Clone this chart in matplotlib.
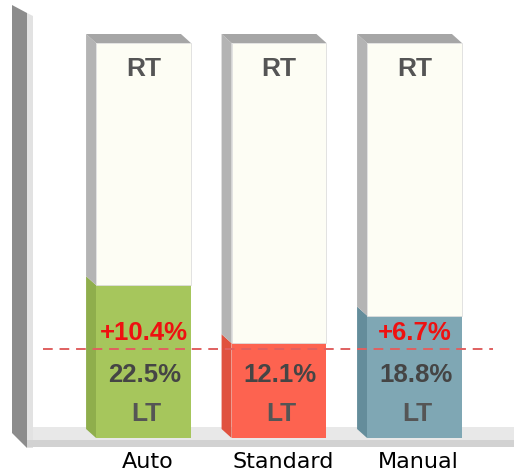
import matplotlib.pyplot as plt
from matplotlib.patches import Polygon, Rectangle

# Werte
categories = ["Auto", "Standard", "Manual"]
lt_share = ["22.5%", "12.1%", "18.8%"]
gain_labels = ["+10.4%", "", "+6.7%"]
lt_height = [38.7, 24.0, 31.0]     # sichtbare Hoehe des LT-Anteils
total_height = [100, 100, 100]
baseline = 22.5

lt_colors = ["#a6c65c", "#fd6350", "#7fa7b4"]
lt_side = ["#8fae4c", "#e0523f", "#648d9b"]
rt_color = "#fdfdf4"
rt_side = "#b4b4b4"
top_color = "#a6a6a6"

# Pixel -> Datenkoordinaten
def px(xp):
    return (xp - 143.5) / 135.5

def py(yp):
    return (438 - yp) / 3.95

fig = plt.figure(figsize=(5.14, 4.75), dpi=100)
ax = fig.add_axes([0, 0, 1, 1])
ax.set_xlim(px(0), px(514))
ax.set_ylim(py(475), py(0))
ax.axis("off")

dx = 10 / 135.5
dy = 9 / 3.95
width = 0.70

# Wand links
ax.add_patch(Polygon([(px(12), py(5)), (px(27), py(13)), (px(27), py(448)), (px(12), py(433))],
                     closed=True, facecolor="#8c8c8c", edgecolor="none", zorder=1))
ax.add_patch(Polygon([(px(27), py(13)), (px(33), py(16)), (px(33), py(448)), (px(27), py(448))],
                     closed=True, facecolor="#e2e2e2", edgecolor="none", zorder=1))
# Boden
ax.add_patch(Rectangle((px(33), py(440)), px(514) - px(33), py(427) - py(440),
                       facecolor="#e8e8e8", edgecolor="none", zorder=1))
ax.add_patch(Rectangle((px(27), py(447)), px(514) - px(27), py(440) - py(447),
                       facecolor="#d2d2d2", edgecolor="none", zorder=1))

xs = list(range(len(categories)))
ax.bar(xs, lt_height, width=width, color=lt_colors, edgecolor="none", zorder=3)
rt_vals = [t - l for t, l in zip(total_height, lt_height)]
ax.bar(xs, rt_vals, bottom=lt_height, width=width, color=rt_color,
       edgecolor="#dddddd", linewidth=0.6, zorder=3)

for i, x in enumerate(xs):
    x0 = x - width / 2
    x1 = x + width / 2
    h = lt_height[i]
    H = total_height[i]
    # Seitenflaechen
    ax.add_patch(Polygon([(x0, 0), (x0 - dx, dy), (x0 - dx, h + dy), (x0, h)],
                         closed=True, facecolor=lt_side[i], edgecolor="none", zorder=2))
    ax.add_patch(Polygon([(x0, h), (x0 - dx, h + dy), (x0 - dx, H + dy), (x0, H)],
                         closed=True, facecolor=rt_side, edgecolor="none", zorder=2))
    # Deckflaeche
    ax.add_patch(Polygon([(x0, H), (x0 - dx, H + dy), (x1 - dx, H + dy), (x1, H)],
                         closed=True, facecolor=top_color, edgecolor="none", zorder=2))

    ax.text(x, H - 6.5, "RT", ha="center", va="center", fontsize=19, fontweight="bold",
            color="#555555", family="Liberation Sans", zorder=5)
    ax.text(x + 0.01, 15.9, lt_share[i], ha="center", va="center", fontsize=18.5,
            fontweight="bold", color="#454545", family="Liberation Sans", zorder=5)
    ax.text(x + 0.02, 6.1, "LT", ha="center", va="center", fontsize=19, fontweight="bold",
            color="#555555", family="Liberation Sans", zorder=5)
    if gain_labels[i]:
        ax.text(x, 26.6, gain_labels[i], ha="center", va="center", fontsize=18.5,
                fontweight="bold", color="#ee1111", family="Liberation Sans", zorder=5)
    ax.text(x + 0.03, py(462), categories[i], ha="center", va="center", fontsize=16,
            color="black", family="DejaVu Sans", zorder=5)

ax.plot([px(43), px(493)], [baseline, baseline], color="#e06060", linewidth=1.4,
        dashes=(5, 3.5), zorder=4)

fig.savefig("out.png", dpi=100)
